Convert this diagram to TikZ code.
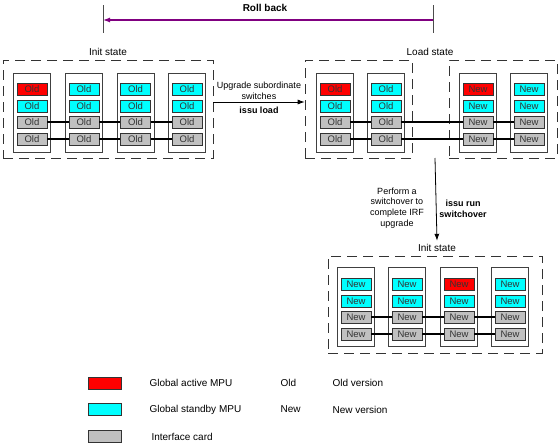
\documentclass[tikz,border=0pt]{standalone}
\usepackage{fontspec}
\setmainfont{Liberation Sans}
\usetikzlibrary{arrows.meta, positioning}
\definecolor{rollback}{RGB}{128,0,128}
\definecolor{aqua}{RGB}{0,255,255}
\definecolor{hotred}{RGB}{255,0,0}
\definecolor{cardgray}{RGB}{192,192,192}

\begin{document}
\begin{tikzpicture}[x=1pt, y=-1pt, font=\fontsize{10}{11}\selectfont]

  % Define styles
  \tikzstyle{chassis} = [rectangle, draw=black!75, minimum width=37pt, minimum height=79pt, inner sep=0pt]
  \tikzstyle{card} = [rectangle, draw=black!80, minimum width=30pt, minimum height=12pt, inner sep=0pt, text=black!80, font=\fontsize{9.5}{10}\selectfont]
  \tikzstyle{key_box} = [rectangle, draw=black!80, minimum width=33pt, minimum height=12pt, inner sep=0pt]
  \tikzstyle{state_box} = [rectangle, draw=black!80, dash pattern=on 10pt off 6pt, semithick, inner sep=0pt]
  \tikzstyle{link} = [draw, black, line width=1.5pt]
  \tikzstyle{step_arrow} = [draw, -{Latex[length=7pt, width=5pt]}, thick]

  \useasboundingbox (0,0) rectangle (560,445);

  % Roll back
  \node[font=\fontsize{10}{12}\selectfont\bfseries] (rb_label) at (265, 8) {Roll back};
  \draw[black!70, line width=1pt] (103, 5) -- (103, 33);
  \draw[black!70, line width=1pt] (433, 5) -- (433, 33);
  \coordinate (rb_from) at (433, 20);
  \coordinate (rb_to) at (103, 20);
  \draw[rollback, line width=1.2pt, -{Latex[length=7pt, width=5pt]}] (rb_from) -- (rb_to);

  % Init state
  \node (init_label) at (108, 52) {Init state};
  \node[state_box, minimum width=210pt, minimum height=98pt] (init_box) at (108, 109) {};

  \foreach \n/\x/\col in {1/32/hotred, 2/84/aqua, 3/135.5/aqua, 4/187/aqua} {
    \node[chassis] (ic\n) at (\x, 112.5) {};
    \node[card, fill=\col] (i\n-1) at (\x, 89) {Old};
    \node[card, fill=aqua] (i\n-2) at (\x, 106) {Old};
    \node[card, fill=cardgray] (i\n-3) at (\x, 122) {Old};
    \node[card, fill=cardgray] (i\n-4) at (\x, 139) {Old};
  }
  \foreach \a/\b in {1/2, 2/3, 3/4} {
    \draw[link] (i\a-3) -- (i\b-3);
    \draw[link] (i\a-4) -- (i\b-4);
  }

  % Upgrade subordinate switches
  \node[align=center, font=\fontsize{9}{10.5}\selectfont] (load_text) at (259, 91) {Upgrade subordinate\\switches};
  \node[font=\fontsize{9}{10.5}\selectfont\bfseries] (load_cmd) at (259, 110) {issu load};

  % Load state
  \node (load_label) at (430, 52) {Load state};
  \node[state_box, minimum width=107pt, minimum height=98pt] (load_old) at (358.5, 109) {};
  \node[state_box, minimum width=108pt, minimum height=98pt] (load_new) at (503, 109) {};

  \draw[step_arrow] ([yshift=7pt]init_box.east) -- ([yshift=7pt]load_old.west);

  \foreach \n/\x/\col/\ver in {1/335/hotred/Old, 2/386/aqua/Old, 3/478/hotred/New, 4/529/aqua/New} {
    \node[chassis] (lc\n) at (\x, 112.5) {};
    \node[card, fill=\col] (l\n-1) at (\x, 89) {\ver};
    \node[card, fill=aqua] (l\n-2) at (\x, 106) {\ver};
    \node[card, fill=cardgray] (l\n-3) at (\x, 122) {\ver};
    \node[card, fill=cardgray] (l\n-4) at (\x, 139) {\ver};
  }
  \foreach \a/\b in {1/2, 2/3, 3/4} {
    \draw[link] (l\a-3) -- (l\b-3);
    \draw[link] (l\a-4) -- (l\b-4);
  }

  % Switchover
  \coordinate (sw_start) at (435, 158);
  \node (final_label) at (437, 248) {Init state};
  \draw[step_arrow] (sw_start) -- (final_label.north);
  \node[align=center, font=\fontsize{9}{10.8}\selectfont] (sw_text) at (397, 208) {Perform a\\switchover to\\complete IRF\\upgrade};
  \node[align=center, font=\fontsize{9}{10.8}\selectfont\bfseries] (sw_cmd) at (463, 208.5) {issu run\\switchover};

  % Final init state
  \node[state_box, minimum width=214pt, minimum height=97pt] (final_box) at (435, 304.5) {};

  \foreach \n/\x/\col in {1/356/aqua, 2/407/aqua, 3/459/hotred, 4/510/aqua} {
    \node[chassis] (fc\n) at (\x, 307) {};
    \node[card, fill=\col] (f\n-1) at (\x, 284) {New};
    \node[card, fill=aqua] (f\n-2) at (\x, 301) {New};
    \node[card, fill=cardgray] (f\n-3) at (\x, 317) {New};
    \node[card, fill=cardgray] (f\n-4) at (\x, 334) {New};
  }
  \foreach \a/\b in {1/2, 2/3, 3/4} {
    \draw[link] (f\a-3) -- (f\b-3);
    \draw[link] (f\a-4) -- (f\b-4);
  }

  % Legend
  \node[key_box, fill=hotred] (key_active) at (104.5, 383) {};
  \node[key_box, fill=aqua] (key_standby) at (104.5, 409.5) {};
  \node[key_box, fill=cardgray] (key_iface) at (104.5, 436.5) {};

  \node[anchor=west] (txt_active) at (146, 383) {Global active MPU};
  \node[anchor=west] (txt_standby) at (146, 409.5) {Global standby MPU};
  \node[anchor=west] (txt_iface) at (148, 436.5) {Interface card};

  \node[anchor=west] (txt_old) at (277, 383) {Old};
  \node[anchor=west] (txt_oldver) at (329, 383) {Old version};
  \node[anchor=west] (txt_new) at (277, 409.5) {New};
  \node[anchor=west] (txt_newver) at (329, 409.5) {New version};

\end{tikzpicture}
\end{document}
